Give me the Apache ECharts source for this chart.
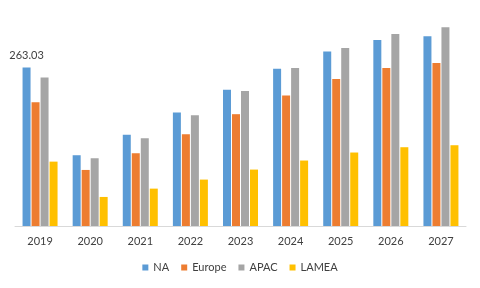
<!DOCTYPE html>
<html>
<head>
<meta charset="utf-8">
<script src="https://cdn.jsdelivr.net/npm/echarts@6/dist/echarts.min.js"></script>
<style>
html,body{margin:0;padding:0;background:#fff;}
#c{width:480px;height:288px;}
</style>
</head>
<body>
<div id="c"></div>
<script>
var years = ['2019','2020','2021','2022','2023','2024','2025','2026','2027'];
var seriesNames = ['NA','Europe','APAC','LAMEA'];
var naValues     = [263.03, 117.4, 151.2, 188.3, 226.0, 260.9, 289.7, 308.5, 314.6];
var europeValues = [205.5, 93.0, 120.7, 152.3, 185.5, 216.6, 243.7, 262.0, 270.3];
var apacValues   = [246.4, 112.4, 145.7, 183.9, 223.8, 262.0, 295.2, 318.5, 329.6];
var lameaValues  = [106.8, 48.2, 62.0, 77.0, 93.6, 108.6, 121.9, 130.7, 134.0];
var colors = ['#5B9BD5','#ED7D31','#A5A5A5','#FFC000'];

var font = 'Lato, "Liberation Sans", sans-serif';
var allValues = [naValues, europeValues, apacValues, lameaValues];

var series = seriesNames.map(function(name, i){
  var data = allValues[i].map(function(v, j){
    if (i === 0 && j === 0) {
      return {value: v, label: {show: true, position: 'top', distance: 6,
        formatter: function(p){ return p.value.toFixed(2); },
        color: '#404040', fontSize: 11, fontFamily: font}};
    }
    return v;
  });
  return {
    name: name,
    type: 'bar',
    barWidth: 8,
    barGap: '12.5%',
    data: data,
    itemStyle: {color: colors[i]},
    emphasis: {disabled: true}
  };
});

var chart = echarts.init(document.getElementById('c'), null, {renderer: 'canvas'});
chart.setOption({
  animation: false,
  color: colors,
  textStyle: {fontFamily: font},
  grid: {left: 15, right: 14, top: 9, bottom: 62, containLabel: false},
  legend: {
    data: seriesNames,
    bottom: 10,
    left: 'center',
    itemWidth: 6,
    itemHeight: 6,
    itemGap: 12,
    icon: 'rect',
    textStyle: {color: '#404040', fontSize: 11, fontFamily: font}
  },
  xAxis: {
    type: 'category',
    data: years,
    axisLine: {lineStyle: {color: '#D9D9D9', width: 1}},
    axisTick: {show: false},
    axisLabel: {color: '#404040', fontSize: 11, fontFamily: font, margin: 10}
  },
  yAxis: {
    type: 'value',
    min: 0,
    max: 360,
    show: false,
    splitLine: {show: false}
  },
  series: series
});
</script>
</body>
</html>
